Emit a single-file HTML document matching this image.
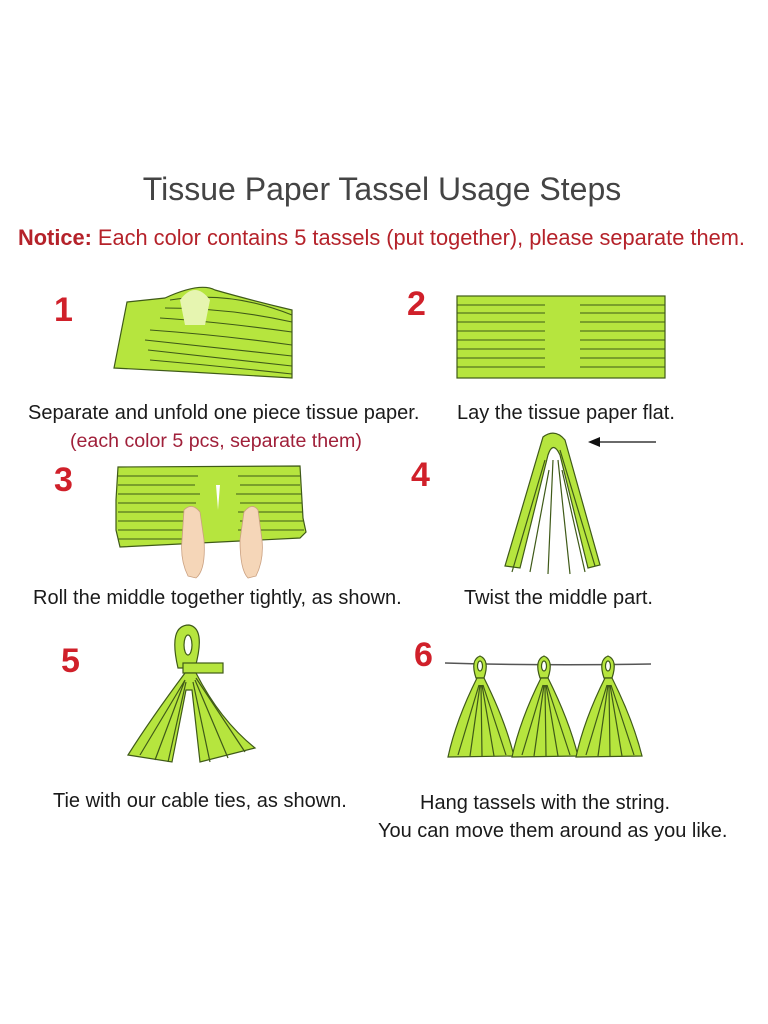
<!DOCTYPE html>
<html><head><meta charset="utf-8"><style>
html,body{margin:0;padding:0;background:#fff;}
#c{position:relative;width:768px;height:1024px;overflow:hidden;font-family:"Liberation Sans",sans-serif;}
.t{position:absolute;white-space:nowrap;}
.cap{font-size:20px;color:#1a1a1a;}
.num{font-size:34px;color:#d0202a;font-weight:bold;}
</style></head><body><div id="c">
<div class="t" style="left:0;width:764px;text-align:center;top:171px;font-size:32px;color:#444;">Tissue Paper Tassel Usage Steps</div>
<div class="t" style="left:18px;top:225px;font-size:21.8px;color:#b5222a;"><b>Notice:</b> Each color contains 5 tassels (put together), please separate them.</div>

<div class="t num" style="left:54px;top:291px;">1</div>
<div class="t num" style="left:407px;top:285px;">2</div>
<div class="t num" style="left:54px;top:461px;">3</div>
<div class="t num" style="left:411px;top:456px;">4</div>
<div class="t num" style="left:61px;top:642px;">5</div>
<div class="t num" style="left:414px;top:636px;">6</div>

<div class="t cap" style="left:28px;top:402px;">Separate and unfold one piece tissue paper.</div>
<div class="t" style="left:70px;top:430px;font-size:19.6px;color:#a0203a;">(each color 5 pcs, separate them)</div>
<div class="t cap" style="left:457px;top:402px;">Lay the tissue paper flat.</div>
<div class="t cap" style="left:33px;top:587px;">Roll the middle together tightly, as shown.</div>
<div class="t cap" style="left:464px;top:587px;">Twist the middle part.</div>
<div class="t cap" style="left:53px;top:790px;">Tie with our cable ties, as shown.</div>
<div class="t cap" style="left:420px;top:792px;">Hang tassels with the string.</div>
<div class="t cap" style="left:378px;top:820px;">You can move them around as you like.</div>

<svg width="768" height="1024" style="position:absolute;left:0;top:0" xmlns="http://www.w3.org/2000/svg">
<g stroke="#3f5a18" stroke-width="1.2" fill="#b6e53e">
<!-- 1 -->
<path d="M127 302 L165 298 Q200 282 215 290 Q250 300 292 310 L292 378 L190 372 L114 368 Z"/>
<g fill="none" stroke-width="1.1">
<path d="M150 330 Q220 335 292 345"/><path d="M145 340 Q220 348 292 356"/><path d="M148 350 Q220 358 292 366"/>
<path d="M160 318 Q220 322 292 332"/><path d="M165 308 Q230 308 292 322"/><path d="M150 360 Q220 366 292 374"/>
<path d="M170 300 Q230 290 292 315"/>
</g>
<path d="M180 300 Q195 280 210 300 L205 325 L185 325 Z" fill="#e6f5b0" stroke="none"/>
<!-- 2 -->
<rect x="457" y="296" width="208" height="82"/>
<g stroke-width="1.1">
<path d="M457 305H545M457 313H545M457 322H545M457 331H545M457 340H545M457 349H545M457 358H545M457 367H545"/>
<path d="M580 305H665M580 313H665M580 322H665M580 331H665M580 340H665M580 349H665M580 358H665M580 367H665"/>
</g>
<!-- 3 -->
<path d="M118 467 L300 466 L303 518 L306 532 L300 538 L120 547 L116 530 L116 500 Z"/>
<g stroke-width="1.1">
<path d="M118 476H198M118 485H195M118 494H200M118 503H196M118 512H198M118 521H195M118 530H198M118 539H198"/>
<path d="M238 476H300M240 485H300M236 494H302M240 503H302M238 512H303M240 521H303M238 530H304"/>
</g>
<path d="M216 485 L218 510 L220 485 Z" fill="#fff" stroke="none"/>
<g fill="#f5d6b8" stroke="#caa080" stroke-width="0.8">
<path d="M184 510 Q192 502 200 512 L204 540 Q206 570 196 578 L188 576 Q180 560 182 540 Z"/>
<path d="M244 512 Q252 502 258 510 L262 540 Q264 560 256 576 L248 578 Q240 570 240 540 Z"/>
</g>
<!-- 4 -->
<g>
<path d="M543 437 Q555 428 565 440 L600 565 L588 568 L560 455 Q553 440 548 455 L520 568 L505 566 Z"/>
<path d="M545 460 L512 572 M549 470 L530 572 M553 460 L548 574 M558 460 L570 574 M562 470 L585 572 M560 450 L595 566" fill="none"/>
</g>
<path d="M656 442 H596" stroke="#111" stroke-width="1.3"/>
<path d="M588 442 L600 437 L600 447 Z" fill="#111" stroke="none"/>
<!-- 5 -->
<path d="M178 668 Q168 625 189 625 Q206 628 195 668 Z"/>
<ellipse cx="188" cy="645" rx="4" ry="10" fill="#fff"/>
<rect x="183" y="663" width="40" height="10"/>
<path d="M185 673 Q150 720 128 755 L172 762 L186 690 L192 690 L200 762 L255 748 Q220 720 196 673 Z"/>
<path d="M185 680 L140 755 M185 680 L155 760 M186 682 L168 762 M193 682 L210 762 M195 680 L228 758 M196 678 L245 752" fill="none"/>
<!-- 6 -->
<path d="M445 663 Q545 666 651 664" fill="none" stroke="#555" stroke-width="1.5"/>
<g id="ts">
<path d="M476 678 Q470 660 480 656 Q490 660 484 678 Z"/>
<ellipse cx="480" cy="666" rx="2.5" ry="5" fill="#fff"/>
<path d="M477 678 L484 678 Q505 720 514 756 L448 757 Q456 720 477 678 Z"/>
<path d="M479 685 L458 755 M480 685 L470 756 M481 685 L482 756 M482 685 L494 756 M483 685 L506 755" fill="none"/>
</g>
<use href="#ts" x="64"/>
<use href="#ts" x="128"/>
</g>
</svg>
</div></body></html>
